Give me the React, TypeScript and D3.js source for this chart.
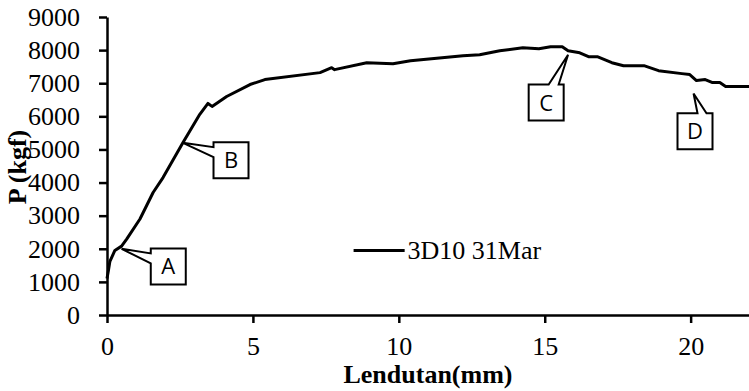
import React, { useEffect, useRef } from 'react';
import * as d3 from 'd3';

// deflection (mm) and load (kgf)
const lendutan = [0, 0.05, 0.1, 0.27, 0.5, 0.68, 1.13, 1.58, 1.92, 2.6, 3.18, 3.46, 3.6, 4.1, 4.9, 5.41, 7.3, 7.7, 7.8, 8.9, 9.8, 10.4, 12.2, 12.77, 13.46, 14.25, 14.8, 15.2, 15.6, 15.8, 16.2, 16.5, 16.8, 17.3, 17.7, 18.4, 18.9, 19.7, 19.97, 20.2, 20.5, 20.75, 21.0, 21.2, 22];
const beban = [1100, 1350, 1620, 1950, 2080, 2300, 2900, 3700, 4150, 5200, 6060, 6390, 6300, 6600, 6960, 7110, 7320, 7470, 7410, 7620, 7590, 7680, 7830, 7860, 7980, 8070, 8040, 8100, 8100, 7980, 7920, 7800, 7800, 7620, 7530, 7530, 7380, 7290, 7260, 7080, 7110, 7020, 7020, 6900, 6900];

const xTicks = [0, 5, 10, 15, 20];
const yTicks = [0, 1000, 2000, 3000, 4000, 5000, 6000, 7000, 8000, 9000];

// callouts: label, point on curve, box position in data units
const calloutLabels = ['A', 'B', 'C', 'D'];
const calloutTips = [[0.5, 2000], [2.6, 5200], [15.8, 7860], [20.1, 6690]];
const calloutBoxes = [[1.5, 2010], [3.65, 5220], [14.45, 6960], [19.55, 6090]];

export default function App() {
  const svgRef = useRef<SVGSVGElement>(null);

  useEffect(() => {
    const width = 749;
    const height = 391;
    const margin = { top: 17, right: 0, bottom: 75, left: 107 };
    const h = height - margin.top - margin.bottom;

    const root = d3.select(svgRef.current);
    root.selectAll('*').remove();
    root.attr('width', width).attr('height', height);

    const svg = root.append('g').attr('transform', `translate(${margin.left},${margin.top})`);

    const x = d3.scaleLinear().domain([0, 22]).range([0, 642]);
    const y = d3.scaleLinear().domain([0, 9000]).range([h - 1, 0]);

    const serif = '"Liberation Serif", "Times New Roman", serif';
    const fs = 26;

    // line
    const data = lendutan.map((d, i) => [d, beban[i]] as [number, number]);
    svg.append('path')
      .datum(data)
      .attr('fill', 'none')
      .attr('stroke', '#000')
      .attr('stroke-width', 3)
      .attr('stroke-linejoin', 'round')
      .attr('d', d3.line<[number, number]>().x(d => x(d[0])).y(d => y(d[1])));

    // Y axis
    const yAxis = svg.append('g')
      .call(d3.axisLeft(y).tickValues(yTicks).tickFormat(d3.format('d')).tickSize(8).tickSizeOuter(0).tickPadding(19));
    yAxis.select('.domain').attr('stroke-width', 2.5);
    yAxis.selectAll('.tick line').attr('stroke-width', 2.5);
    yAxis.selectAll('text').attr('font-family', serif).attr('font-size', fs).attr('fill', '#000');

    // X axis
    const xAxis = svg.append('g')
      .attr('transform', `translate(0,${h - 1})`)
      .call(d3.axisBottom(x).tickValues(xTicks).tickFormat(d3.format('d')).tickSize(8).tickSizeOuter(0).tickPadding(14));
    xAxis.select('.domain').attr('stroke-width', 2.5);
    xAxis.selectAll('.tick line').attr('stroke-width', 2.5);
    xAxis.selectAll('text').attr('font-family', serif).attr('font-size', fs).attr('fill', '#000');

    // axis titles
    root.append('text')
      .attr('x', 428)
      .attr('y', 383)
      .attr('text-anchor', 'middle')
      .attr('font-family', serif)
      .attr('font-weight', 'bold')
      .attr('font-size', fs)
      .text('Lendutan(mm)');

    root.append('text')
      .attr('transform', 'translate(26,167) rotate(-90)')
      .attr('text-anchor', 'middle')
      .attr('font-family', serif)
      .attr('font-weight', 'bold')
      .attr('font-size', fs)
      .text('P (kgf)');

    // legend
    svg.append('line')
      .attr('x1', x(8.45)).attr('x2', x(10.2))
      .attr('y1', y(1950)).attr('y2', y(1950))
      .attr('stroke', '#000').attr('stroke-width', 3);
    svg.append('text')
      .attr('x', x(10.3))
      .attr('y', y(1950) + 9)
      .attr('font-family', serif)
      .attr('font-size', fs)
      .text('3D10 31Mar');

    // callouts
    const bw = 35;
    const bh = 36;
    calloutLabels.forEach((lab, i) => {
      const [tx, ty] = [x(calloutTips[i][0]), y(calloutTips[i][1])];
      const bx = x(calloutBoxes[i][0]);
      const by = y(calloutBoxes[i][1]);
      let pts: [number, number][];
      if (lab === 'A' || lab === 'B') {
        pts = [[bx, by], [bx + bw, by], [bx + bw, by + bh], [bx, by + bh], [bx, by + 15], [tx, ty], [bx, by + 5]];
      } else if (lab === 'C') {
        pts = [[bx, by], [bx + 20, by], [tx, ty], [bx + 30, by], [bx + bw, by], [bx + bw, by + bh], [bx, by + bh]];
      } else {
        pts = [[bx, by], [bx + 20, by], [tx, ty], [bx + 29, by], [bx + bw, by], [bx + bw, by + bh], [bx, by + bh]];
      }
      svg.append('path')
        .attr('d', 'M' + pts.map(p => p.join(',')).join('L') + 'Z')
        .attr('fill', '#fff')
        .attr('stroke', '#000')
        .attr('stroke-width', 2);
      svg.append('text')
        .attr('x', bx + bw / 2)
        .attr('y', by + bh / 2 + 8)
        .attr('text-anchor', 'middle')
        .attr('font-family', '"Open Sans", "Liberation Sans", sans-serif')
        .attr('font-size', 22)
        .text(lab);
    });
  }, []);

  return (
    <div style={{ position: 'absolute', left: 0, top: 0 }}>
      <svg ref={svgRef}></svg>
    </div>
  );
}
